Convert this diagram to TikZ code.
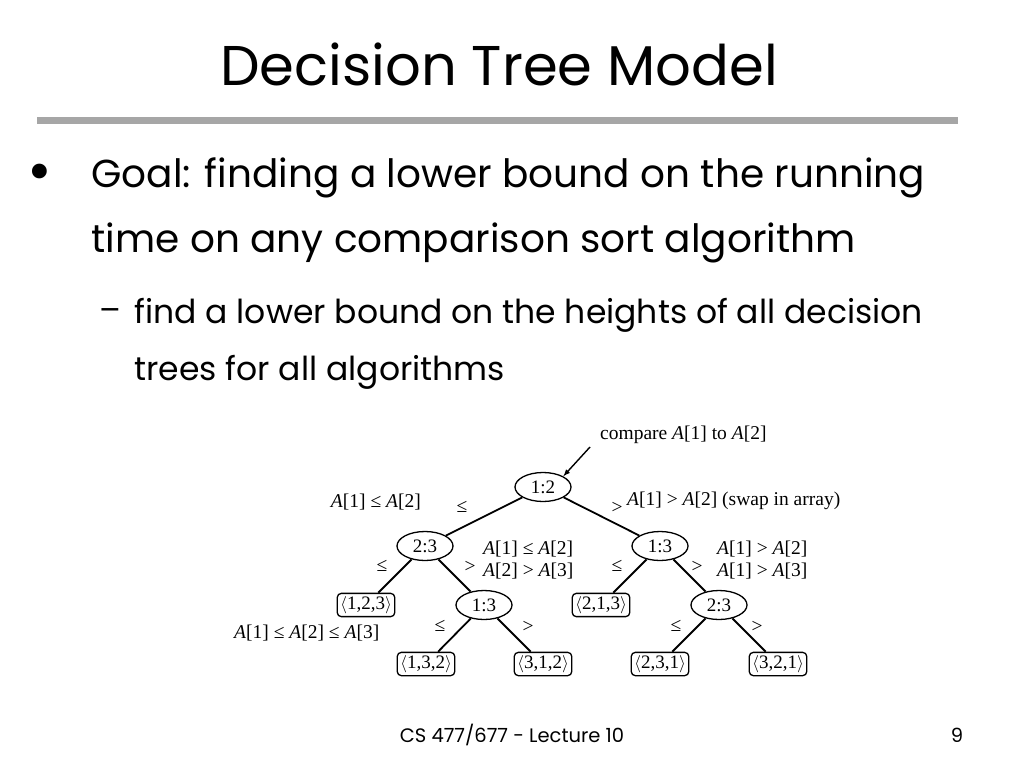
\documentclass[tikz,border=0pt]{standalone}
\usepackage{fontspec}
\setmainfont{Poppins}
\newfontfamily\treefont{Liberation Serif}
\usetikzlibrary{shapes}
\usetikzlibrary{arrows}
\usetikzlibrary{positioning}

\begin{document}
\begin{tikzpicture}[x=1pt,y=-1pt,
  cmp/.style={ellipse,draw,line width=1.3pt,minimum width=56pt,minimum height=29pt,inner sep=0pt,font=\treefont\fontsize{19}{19}\selectfont},
  perm/.style={rectangle,rounded corners=4pt,draw,line width=1.3pt,inner sep=3pt,font=\treefont\fontsize{19}{19}\selectfont},
  lbl/.style={font=\treefont\fontsize{19.5}{22}\selectfont,align=left,inner sep=0pt},
  branch/.style={line width=1.8pt}]
  \useasboundingbox (0,0) rectangle (1024,768);
  % title and rule
  \node[font=\fontsize{56}{60}\selectfont] (title) at (499,64) {Decision Tree Model};
  \draw[line width=7pt,gray!70] (37,120) -- (958,120);
  % bullets
  \node[font=\fontsize{60}{60}\selectfont] (dot) at (40,178) {\textbullet};
  \node[anchor=west,font=\fontsize{39}{44}\selectfont] (b1) at (88,178) {Goal: finding a lower bound on the running};
  \node[anchor=west,font=\fontsize{39}{44}\selectfont] (b1b) at (88,243) {time on any comparison sort algorithm};
  \node[font=\fontsize{32}{36}\selectfont] (dash) at (110,315) {–};
  \node[anchor=west,font=\fontsize{33}{38}\selectfont] (b2) at (131,315) {find a lower bound on the heights of all decision};
  \node[anchor=west,font=\fontsize{33}{38}\selectfont] (b2b) at (131,372) {trees for all algorithms};
  % draw comparison nodes
  \node[cmp] (r) at (543,487) {1:2};
  \node[cmp] (l) at (425,546) {2:3};
  \node[cmp] (rr) at (660,546) {1:3};
  \node[cmp] (lr) at (484,605) {1:3};
  \node[cmp] (rrr) at (719,605) {2:3};
  % draw leaves
  \node[perm] (p123) at (366,605) {$\langle$1,2,3$\rangle$};
  \node[perm] (p213) at (601,605) {$\langle$2,1,3$\rangle$};
  \node[perm] (p132) at (426,664) {$\langle$1,3,2$\rangle$};
  \node[perm] (p312) at (543,664) {$\langle$3,1,2$\rangle$};
  \node[perm] (p231) at (660,664) {$\langle$2,3,1$\rangle$};
  \node[perm] (p321) at (778,664) {$\langle$3,2,1$\rangle$};
  % draw branches
  \foreach \a/\b in {r/l,r/rr,l/p123,l/lr,lr/p132,lr/p312,rr/p213,rr/rrr,rrr/p231,rrr/p321}
    \draw[branch] (\a) -- (\b);
  % annotations
  \node[lbl,anchor=west] (cmpnote) at (600,435) {compare \textit{A}[1] to \textit{A}[2]};
  \coordinate (ca) at (590,447);
  \draw[-latex,line width=1.4pt] (ca) -- (r.north east);
  \node[lbl,anchor=east] (n1) at (421,502) {\textit{A}[1] ≤ \textit{A}[2]};
  \node[lbl,anchor=west] (n2) at (627,501) {\textit{A}[1] > \textit{A}[2] (swap in array)};
  \node[lbl,anchor=west] (n3) at (483,560) {\textit{A}[1] ≤ \textit{A}[2]\\\textit{A}[2] > \textit{A}[3]};
  \node[lbl,anchor=west] (n4) at (717,560) {\textit{A}[1] > \textit{A}[2]\\\textit{A}[1] > \textit{A}[3]};
  \node[lbl,anchor=west] (n5) at (234,633) {\textit{A}[1] ≤ \textit{A}[2] ≤ \textit{A}[3]};
  % branch marks
  \foreach \x/\y/\t in {462/507/≤,617/508/>,382/566/≤,470/567/>,617/566/≤,697/567/>,440/626/≤,528/627/>,676/626/≤,757/627/>}
    \node[lbl] at (\x,\y) {\t};
  % footer
  \node[font=\fontsize{19.5}{22}\selectfont] (foot) at (512,735) {CS 477/677 - Lecture 10};
  \node[font=\fontsize{19.5}{22}\selectfont] (page) at (957,735) {9};
\end{tikzpicture}
\end{document}
